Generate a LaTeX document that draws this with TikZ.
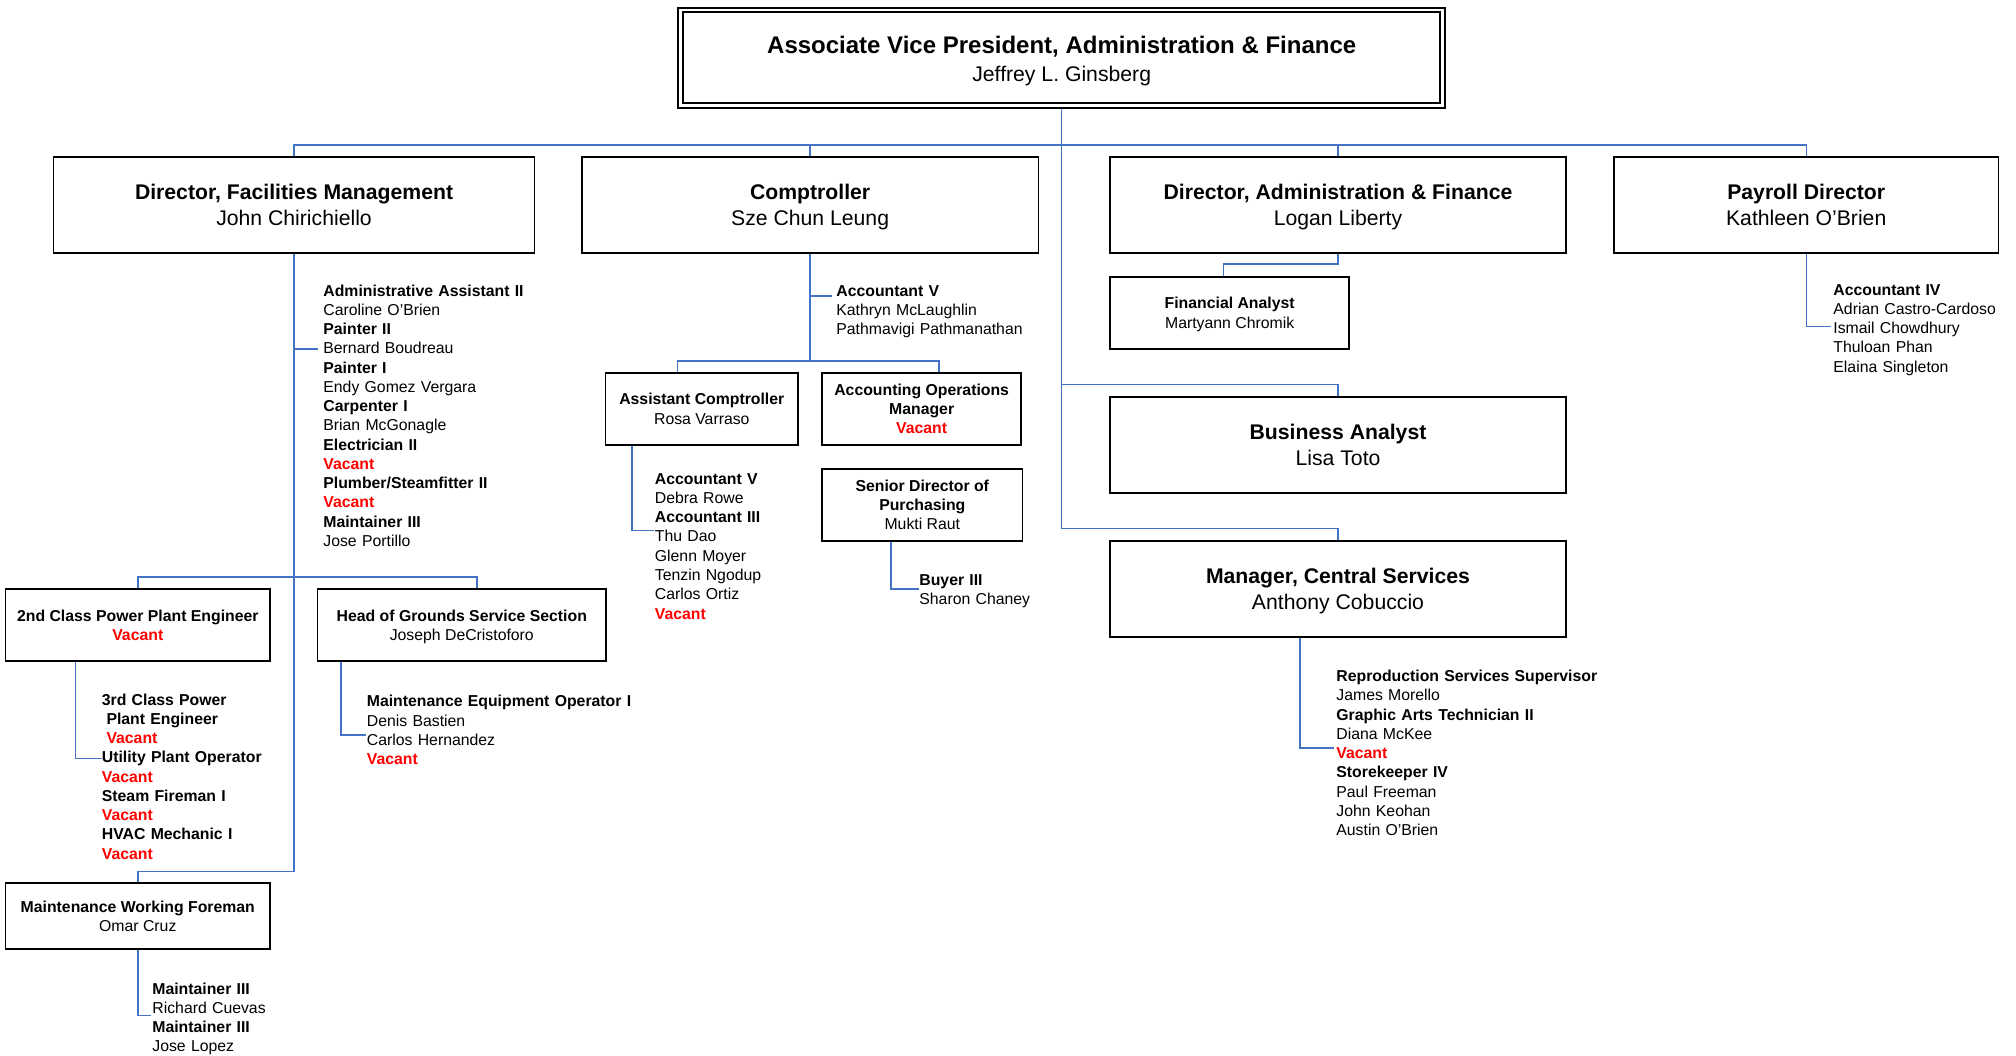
\documentclass[tikz,border=0pt]{standalone}
\usepackage{fontspec}
\setmainfont{Liberation Sans}
\usetikzlibrary{calc}
\pgfdeclarelayer{background}
\pgfsetlayers{background,main}
\definecolor{connblue}{RGB}{68,114,196}
\definecolor{vacred}{RGB}{255,0,0}
\newcommand{\vacnt}{\textcolor{vacred}{\bfseries Vacant}}
\newcommand{\firstln}{\rule{0pt}{0.73em}}
\newcommand{\lastln}[1]{\raisebox{0pt}[\height][0pt]{#1}}
\begin{document}
\begin{tikzpicture}[
  x=0.5pt, y=-0.5pt,
  box/.style={draw=black, line width=0.85pt, fill=white, rectangle, inner sep=0pt, align=center},
  bigbox/.style={box, minimum height=48pt, font=\fontsize{10.6}{13}\selectfont},
  smallbox/.style={box, minimum height=36pt, font=\fontsize{7.9}{9.6}\selectfont},
  conn/.style={draw=connblue, line width=0.7pt},
  stafflist/.style={anchor=base west, inner sep=0pt, text width=170pt, align=left, font=\fontsize{7.9}{9.63}\selectfont}
]
\useasboundingbox (0,0) rectangle (2016,1055);

% ---- boxes ----
\node[box, double, double distance=1.4pt, line width=0.95pt, minimum width=381pt, minimum height=47.7pt,
      font=\fontsize{10.6}{13.85}\selectfont] (avp) at (1061.7,57.7)
  {{\fontsize{12}{13.85}\selectfont\bfseries\rule{0pt}{9.8pt}Associate Vice President, Administration \& Finance}\\\lastln{Jeffrey L. Ginsberg}};

\node[bigbox, minimum width=240.5pt] (fac) at (294.05,204.7) {\firstln\textbf{Director, Facilities Management}\\\lastln{John Chirichiello}};
\node[bigbox, minimum width=228.4pt] (comp) at (810.1,204.7) {\firstln\textbf{Comptroller}\\\lastln{Sze Chun Leung}};
\node[bigbox, minimum width=228pt] (daf) at (1338,204.7) {\firstln\textbf{Director, Administration \& Finance}\\\lastln{Logan Liberty}};
\node[bigbox, minimum width=192.15pt] (pay) at (1806.2,204.7) {\firstln\textbf{Payroll Director}\\\lastln{Kathleen O’Brien}};

\node[smallbox, minimum width=119.65pt] (fa) at (1229.65,312.7) {\firstln\textbf{Financial Analyst}\\\lastln{Martyann Chromik}};
\node[bigbox, minimum width=228pt, minimum height=47.85pt] (ba) at (1338,444.85) {\firstln\textbf{Business Analyst}\\\lastln{Lisa Toto}};
\node[bigbox, minimum width=228pt] (mcs) at (1338,589) {\firstln\textbf{Manager, Central Services}\\\lastln{Anthony Cobuccio}};

\node[smallbox, minimum width=96.2pt] (asc) at (701.8,408.7) {\firstln\textbf{Assistant Comptroller}\\\lastln{Rosa Varraso}};
\node[smallbox, minimum width=99.65pt] (aom) at (921.65,408.7) {\firstln\textbf{Accounting Operations}\\\textbf{Manager}\\\lastln{\vacnt}};
\node[smallbox, minimum width=100.3pt, minimum height=36.15pt] (sdp) at (922.3,504.85) {\firstln\textbf{Senior Director of}\\\textbf{Purchasing}\\\lastln{Mukti Raut}};

\node[smallbox, minimum width=132.2pt] (pp2) at (137.8,625) {\firstln\textbf{2nd Class Power Plant Engineer}\\\lastln{\vacnt}};
\node[smallbox, minimum width=144.2pt] (hgs) at (461.8,625) {\firstln\textbf{Head of Grounds Service Section}\\\lastln{Joseph DeCristoforo}};
\node[smallbox, minimum width=132.2pt, minimum height=32.85pt] (mwf) at (137.8,916.15) {\firstln\textbf{Maintenance Working Foreman}\\\lastln{Omar Cruz}};

% ---- staff lists ----
\node[stafflist] (facl) at (323,296.1) {\textbf{Administrative Assistant II}\\Caroline O’Brien\\\textbf{Painter II}\\Bernard Boudreau\\\textbf{Painter I}\\Endy Gomez Vergara\\\textbf{Carpenter I}\\Brian McGonagle\\\textbf{Electrician II}\\\vacnt\\\textbf{Plumber/Steamfitter II}\\\vacnt\\\textbf{Maintainer III}\\Jose Portillo};
\node[stafflist] (compl) at (836,296.1) {\textbf{Accountant V}\\Kathryn McLaughlin\\Pathmavigi Pathmanathan};
\node[stafflist] (payl) at (1833,295.1) {\textbf{Accountant IV}\\Adrian Castro-Cardoso\\Ismail Chowdhury\\Thuloan Phan\\Elaina Singleton};
\node[stafflist] (ascl) at (654.5,484.2) {\textbf{Accountant V}\\Debra Rowe\\\textbf{Accountant III}\\Thu Dao\\Glenn Moyer\\Tenzin Ngodup\\Carlos Ortiz\\\vacnt};
\node[stafflist] (sdpl) at (919,585.5) {\textbf{Buyer III}\\Sharon Chaney};
\node[stafflist] (mcsl) at (1336,681.5) {\textbf{Reproduction Services Supervisor}\\James Morello\\\textbf{Graphic Arts Technician II}\\Diana McKee\\\vacnt\\\textbf{Storekeeper IV}\\Paul Freeman\\John Keohan\\Austin O’Brien};
\node[stafflist] (pp2l) at (101.5,705.1) {\textbf{3rd Class Power}\\\hspace*{2.3pt}\textbf{Plant Engineer}\\\hspace*{2.3pt}\vacnt\\\textbf{Utility Plant Operator}\\\vacnt\\\textbf{Steam Fireman I}\\\vacnt\\\textbf{HVAC Mechanic I}\\\vacnt};
\node[stafflist] (hgsl) at (366.5,706.8) {\textbf{Maintenance Equipment Operator I}\\Denis Bastien\\Carlos Hernandez\\\vacnt};
\node[stafflist] (mwfl) at (152,994.1) {\textbf{Maintainer III}\\Richard Cuevas\\\textbf{Maintainer III}\\Jose Lopez};

% ---- connector helper coordinates ----
\coordinate (busA) at (0,145);
\coordinate (baY) at (0,384.7);
\coordinate (mcsY) at (0,528.7);
\coordinate (facY2) at (0,871.3);
\coordinate (subY) at (0,577);
\coordinate (compBus) at (0,361);
\coordinate (hgsTop) at ($(hgs.north)+(15.2,0)$);
\coordinate (ascTop) at ($(asc.north)+(-24.2,0)$);
\coordinate (aomTop) at ($(aom.north)+(17.35,0)$);
\coordinate (faTop) at ($(fa.north)+(-6.3,0)$);
\coordinate (pp2Out) at ($(pp2.south west)+(70.7,0)$);
\coordinate (hgsOut) at ($(hgs.south west)+(24.4,0)$);
\coordinate (ascOut) at ($(asc.south west)+(27.4,0)$);
\coordinate (sdpOut) at ($(sdp.south west)+(70,0)$);
\coordinate (mcsOut) at ($(mcs.south west)+(190.8,0)$);
\coordinate (facBr) at (317.6,349);
\coordinate (compBr) at (831.5,296);
\coordinate (payBr) at (1830.7,326.7);
\coordinate (pp2Br) at (102,758.5);
\coordinate (hgsBr) at (365.6,735);
\coordinate (mwfBr) at (151,1015.5);
\coordinate (ascBr) at (653.7,530.3);
\coordinate (sdpBr) at (918.5,589);
\coordinate (mcsBr) at (1334,748);

% ---- connectors ----
\begin{pgfonlayer}{background}
\draw[conn] (fac.north) -- (fac.north |- busA) -- (pay.north |- busA) -- (pay.north);
\draw[conn] (comp.north) -- (comp.north |- busA);
\draw[conn] (daf.north) -- (daf.north |- busA);
\draw[conn] (avp.south) -- (avp.south |- mcsY) -| (mcs.north);
\draw[conn] (avp.south |- baY) -| (ba.north);
\draw[conn] (daf.south) |- ($(faTop)+(0,-12)$) -- (faTop);
\draw[conn] (pay.south) |- (payBr);

\draw[conn] (fac.south) -- (fac.south |- facY2) -| (mwf.north);
\draw[conn] (fac.south |- facBr) -- (facBr);
\draw[conn] (pp2.north) -- (pp2.north |- subY) -- (hgsTop |- subY) -- (hgsTop);
\draw[conn] (pp2Out) |- (pp2Br);
\draw[conn] (hgsOut) |- (hgsBr);
\draw[conn] (mwf.south) |- (mwfBr);

\draw[conn] (comp.south) -- (comp.south |- compBus);
\draw[conn] (ascTop) -- (ascTop |- compBus) -- (aomTop |- compBus) -- (aomTop);
\draw[conn] (comp.south |- compBr) -- (compBr);
\draw[conn] (ascOut) |- (ascBr);
\draw[conn] (sdpOut) |- (sdpBr);
\draw[conn] (mcsOut) |- (mcsBr);
\end{pgfonlayer}
\end{tikzpicture}
\end{document}
